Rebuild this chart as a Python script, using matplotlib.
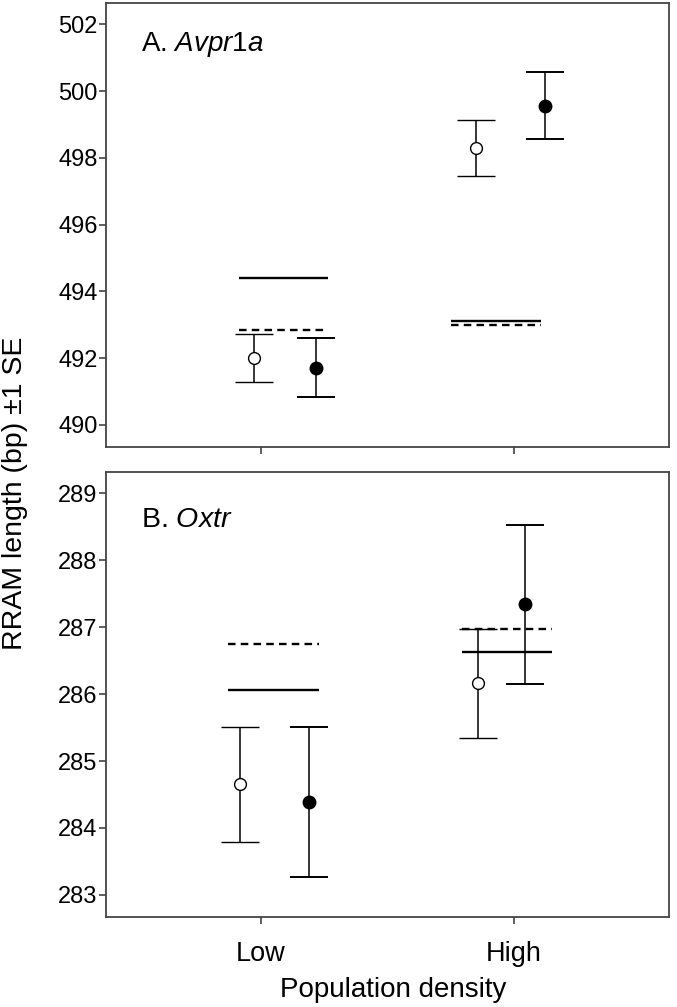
import numpy as np
import matplotlib
matplotlib.use("Agg")
import matplotlib.pyplot as plt

plt.rcParams['font.family'] = ['Liberation Sans', 'DejaVu Sans']
plt.rcParams['mathtext.fontset'] = 'custom'
plt.rcParams['mathtext.rm'] = 'Liberation Sans'
plt.rcParams['mathtext.it'] = 'Liberation Sans:italic'

# ---- data ----
categories = ['Low', 'High']

# panel A, Avpr1a: means and SE for open / filled groups, at Low and High density
a_open_mean = [492.00, 498.31]
a_open_se = [0.72, 0.84]
a_filled_mean = [491.72, 499.57]
a_filled_se = [0.89, 1.00]
a_solid_line = [494.40, 493.11]
a_dashed_line = [492.86, 492.99]

# panel B, Oxtr
b_open_mean = [284.65, 286.16]
b_open_se = [0.86, 0.81]
b_filled_mean = [284.39, 287.34]
b_filled_se = [1.12, 1.19]
b_solid_line = [286.06, 286.63]
b_dashed_line = [286.75, 286.97]

a_yticks = [490, 492, 494, 496, 498, 500, 502]
b_yticks = [283, 284, 285, 286, 287, 288, 289]

# ---- horizontal offsets of the marks around each category ----
a_open_dx = [-0.028, -0.150]
a_filled_dx = [0.216, 0.122]
a_line_span = [(-0.086, 0.265), (-0.248, 0.106)]
b_open_dx = [-0.084, -0.141]
b_filled_dx = [0.190, 0.044]
b_line_span = [(-0.129, 0.229), (-0.207, 0.150)]

fig = plt.figure(figsize=(6.77, 10.07), dpi=100)
axA = fig.add_axes([0.1566, 0.5561, 0.8316, 0.4409])
axB = fig.add_axes([0.1566, 0.0894, 0.8316, 0.4419])

xpos = np.arange(1, len(categories) + 1)


def draw_panel(ax, open_m, open_se, fil_m, fil_se, solid, dashed,
               open_dx, fil_dx, spans, yticks, ylim, label, label_y, label_fs):
    for i, x in enumerate(xpos):
        x0, x1 = x + spans[i][0], x + spans[i][1]
        ax.hlines(solid[i], x0, x1, colors='black', lw=1.7)
        ax.plot([x0, x1], [dashed[i], dashed[i]], color='black', lw=1.7,
                dashes=(3.2, 2.2))
        ax.errorbar(x + open_dx[i], open_m[i], yerr=open_se[i], fmt='o',
                    mfc='white', mec='black', mew=1.0, ms=8.5, color='black',
                    ecolor='black', elinewidth=1.1, capsize=13.5, capthick=1.4)
        ax.errorbar(x + fil_dx[i], fil_m[i], yerr=fil_se[i], fmt='o',
                    mfc='black', mec='black', ms=9, color='black',
                    ecolor='black', elinewidth=1.1, capsize=13.5, capthick=1.4)
    ax.set_xlim(0.387, 2.613)
    ax.set_ylim(*ylim)
    ax.set_yticks(yticks)
    ax.set_xticks(xpos)
    ax.tick_params(axis='both', direction='out', length=5, width=1.1,
                   colors='#333333', labelcolor='black')
    ax.tick_params(axis='y', pad=1, labelsize=17)
    ax.tick_params(axis='x', pad=12, labelsize=19.5)
    for sp in ax.spines.values():
        sp.set_color('#444444')
        sp.set_linewidth(1.3)
    ax.text(0.062, label_y, label, transform=ax.transAxes, fontsize=label_fs,
            va='center', ha='left')


draw_panel(axA, a_open_mean, a_open_se, a_filled_mean, a_filled_se,
           a_solid_line, a_dashed_line, a_open_dx, a_filled_dx, a_line_span,
           a_yticks, (489.34, 502.64), r'A. $Avpr1a$', 0.906, 20)
axA.set_xticklabels([])

draw_panel(axB, b_open_mean, b_open_se, b_filled_mean, b_filled_se,
           b_solid_line, b_dashed_line, b_open_dx, b_filled_dx, b_line_span,
           b_yticks, (282.67, 289.32), r'B. $Oxtr$', 0.892, 20.5)
axB.set_xticklabels(categories)

fig.text(0.022, 0.51, 'RRAM length (bp) \u00b11 SE', rotation=90,
         ha='center', va='center', fontsize=20.5)
fig.text(0.581, 0.017, 'Population density', ha='center', va='center',
         fontsize=20)

fig.savefig('out.png', dpi=100)
